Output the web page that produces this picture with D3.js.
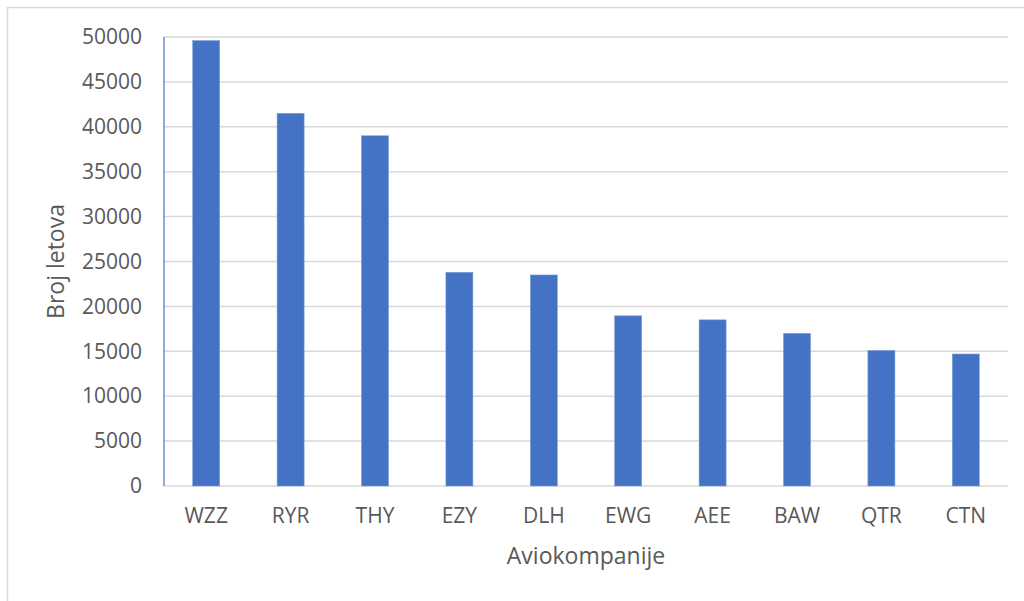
<!DOCTYPE html>
<html>
<head>
<meta charset="utf-8">
<script src="https://cdn.jsdelivr.net/npm/d3@7"></script>
<style>
  html, body { margin: 0; padding: 0; background: #fff; }
  svg { display: block; }
</style>
</head>
<body>
<div id="chart"></div>
<script>
const airlines = ['WZZ', 'RYR', 'THY', 'EZY', 'DLH', 'EWG', 'AEE', 'BAW', 'QTR', 'CTN'];
const flights = [49600, 41500, 39000, 23800, 23500, 18950, 18500, 17000, 15100, 14700];
const yTicks = [0, 5000, 10000, 15000, 20000, 25000, 30000, 35000, 40000, 45000, 50000];

const W = 1024, H = 601;
const plot = { left: 164, right: 1008, top: 37, bottom: 486 };
const FONT = "'Open Sans', 'Segoe UI', sans-serif";
const TEXT = '#595959';
const GRID = '#d9d9d9';
const BAR = '#4472c4';

const svg = d3.select('#chart').append('svg')
    .attr('width', W)
    .attr('height', H);

// chart frame (runs off the right and bottom edges)
svg.append('rect')
    .attr('x', 7.5).attr('y', 7.5)
    .attr('width', W + 20).attr('height', H + 20)
    .attr('fill', '#fff')
    .attr('stroke', GRID)
    .attr('stroke-width', 1.5);

const x = d3.scaleBand()
    .domain(airlines)
    .range([plot.left, plot.right])
    .paddingInner(0.68)
    .paddingOuter(0.34);

const y = d3.scaleLinear()
    .domain([0, 50000])
    .range([plot.bottom, plot.top]);

// gridlines
svg.append('g')
    .selectAll('line')
    .data(yTicks)
    .join('line')
    .attr('x1', plot.left).attr('x2', plot.right)
    .attr('y1', d => y(d)).attr('y2', d => y(d))
    .attr('stroke', GRID)
    .attr('stroke-width', 1.5);

// y axis labels
svg.append('g')
    .attr('transform', `translate(${plot.left},0)`)
    .call(d3.axisLeft(y).tickValues(yTicks).tickSize(0).tickPadding(22).tickFormat(d3.format('d')))
    .call(sel => sel.select('.domain').remove())
    .call(sel => sel.selectAll('.tick text')
        .attr('fill', TEXT)
        .style('font-family', FONT)
        .style('font-size', '21px'));

// bars
svg.append('g')
    .selectAll('rect')
    .data(airlines)
    .join('rect')
    .attr('x', d => x(d))
    .attr('y', (d, i) => y(flights[i]))
    .attr('width', x.bandwidth())
    .attr('height', (d, i) => y(0) - y(flights[i]))
    .attr('fill', BAR)
    .attr('stroke', '#7f9fd8')
    .attr('stroke-width', 0.6);

// y axis line (blue)
svg.append('line')
    .attr('x1', plot.left).attr('x2', plot.left)
    .attr('y1', plot.top).attr('y2', plot.bottom)
    .attr('stroke', BAR)
    .attr('stroke-width', 1.2);

// x axis
svg.append('g')
    .attr('transform', `translate(0,${plot.bottom})`)
    .call(d3.axisBottom(x).tickSize(0).tickPadding(22))
    .call(sel => sel.select('.domain').remove())
    .call(sel => sel.selectAll('.tick text')
        .attr('fill', TEXT)
        .style('font-family', FONT)
        .style('font-size', '21px'));

// axis titles
svg.append('text')
    .attr('x', (plot.left + plot.right) / 2)
    .attr('y', 564)
    .attr('text-anchor', 'middle')
    .attr('fill', TEXT)
    .style('font-family', FONT)
    .style('font-size', '23px')
    .text('Aviokompanije');

svg.append('text')
    .attr('transform', `translate(64,${(plot.top + plot.bottom) / 2}) rotate(-90)`)
    .attr('text-anchor', 'middle')
    .attr('fill', TEXT)
    .style('font-family', FONT)
    .style('font-size', '23px')
    .text('Broj letova');
</script>
</body>
</html>
